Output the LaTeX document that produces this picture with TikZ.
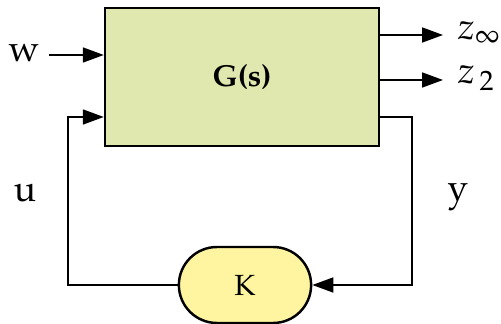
\documentclass[tikz,border=0pt]{standalone}
\usepackage[T1]{fontenc}
\usepackage{mathpazo}
\usetikzlibrary{arrows.meta,shapes.misc}
\definecolor{gfill}{RGB}{224,232,175}
\definecolor{kfill}{RGB}{255,245,160}
\tikzset{
  every picture/.style={line width=1pt},
  sblock/.style={draw, line width=1.4pt, fill=gfill, minimum width=5.48cm,
                 minimum height=2.76cm, font=\LARGE\bfseries},
  sctrl/.style={draw, line width=1.4pt, fill=kfill, rounded rectangle,
                minimum width=2.88cm, minimum height=1.52cm, font=\huge\scshape},
  ssig/.style={-{Triangle[length=0.42cm, width=0.3cm]}},
  slabel/.style={font=\fontsize{21}{24}\selectfont},
}

\begin{document}
\begin{tikzpicture}[x=0.02cm, y=0.02cm]
  \useasboundingbox (0,0) rectangle (501,324);
  \node[sblock] (G) at (242,247) {G(s)};
  \node[sctrl] (K) at (245,39) {k};
  % signal names
  \node[slabel] (w) at (24,271) {w};
  \node[slabel] (u) at (25,131) {u};
  \node[slabel] (y) at (458,127) {y};
  \node[slabel, anchor=west] (zi) at (451,291) {$z_{\infty}$};
  \node[slabel, anchor=west] (zt) at (451,246) {$z_{\,2}$};
  % loop corners
  \coordinate (win) at (49,269);
  \coordinate (uc) at (68,207);
  \coordinate (yc) at (412,207);
  \coordinate (zio) at (443,289);
  \coordinate (zto) at (443,244);
  \draw[ssig] (win) -- (win -| G.west);
  \draw[ssig] (zio -| G.east) -- (zio);
  \draw[ssig] (zto -| G.east) -- (zto);
  \draw[ssig] (K.west) -| (uc) -- (uc -| G.west);
  \draw[ssig] (yc -| G.east) -- (yc) |- (K.east);
\end{tikzpicture}
\end{document}
